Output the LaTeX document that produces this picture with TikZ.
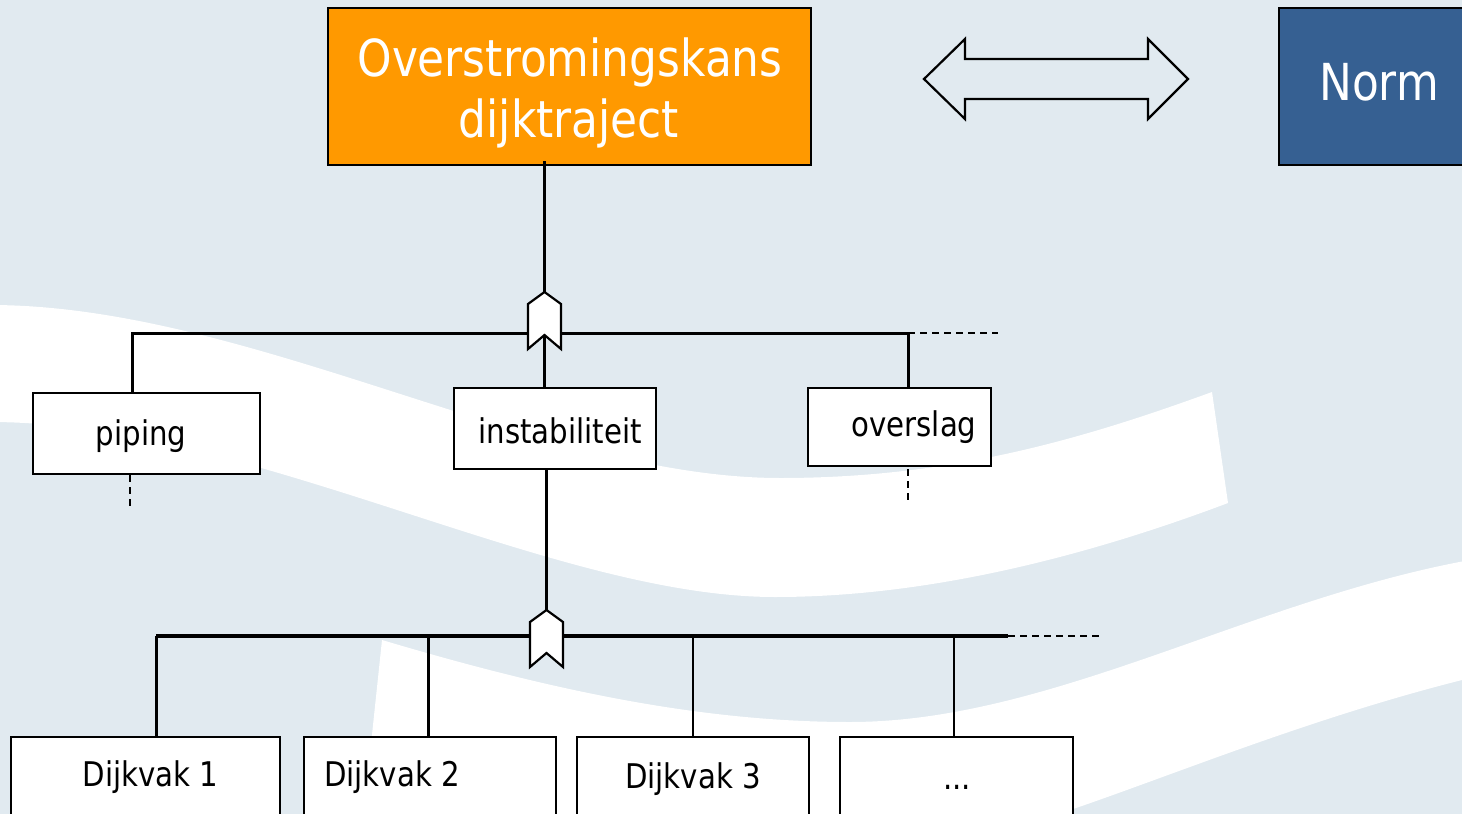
\documentclass[tikz,border=0pt]{standalone}
\usepackage{fontspec}
\setmainfont{DejaVu Sans}[FakeStretch=0.86]
\definecolor{bgblue}{HTML}{E1EAF0}
\definecolor{orangebox}{HTML}{FF9900}
\definecolor{normblue}{HTML}{366092}
\tikzset{
  box/.style={draw=black, line width=2.2pt, fill=white, inner sep=0pt},
  topbox/.style={draw=black, line width=2.4pt, inner sep=0pt},
  conn/.style={line width=3pt},
  thinconn/.style={line width=2.3pt},
  busline/.style={line width=4.5pt},
  dashconn/.style={line width=2.2pt, dash pattern=on 7pt off 5pt},
  txt/.style={anchor=base, inner sep=0pt, font=\fontsize{34}{40}\selectfont},
  bigtxt/.style={anchor=base, inner sep=0pt, text=white, font=\fontsize{51}{61}\selectfont},
  gateshape/.style={draw=black, line width=2.2pt, fill=white, line join=miter},
  gatepic/.pic={
    \draw[gateshape] (0,-28) -- (16.5,-16) -- (16.5,29) -- (0,15) -- (-16.5,29) -- (-16.5,-16) -- cycle;
    \coordinate (-apex) at (0,-28);
    \coordinate (-notch) at (0,15);
  },
}
\begin{document}
\begin{tikzpicture}[x=1pt, y=-1pt]
  \useasboundingbox (0,0) rectangle (1462,814);
  \clip (0,0) rectangle (1462,814);

  % background with two white waves
  \fill[bgblue] (0,0) rectangle (1462,814);
  \fill[white] (-10,305) .. controls (250,305) and (540,478) .. (780,478)
    .. controls (950,478) and (1080,440) .. (1212,392)
    -- (1228,503)
    .. controls (1050,570) and (900,597) .. (775,597)
    .. controls (550,597) and (250,422) .. (-10,422) -- cycle;
  \fill[white] (382,640) .. controls (550,690) and (700,722) .. (850,722)
    .. controls (1050,722) and (1250,600) .. (1470,560)
    -- (1470,678)
    .. controls (1300,720) and (1150,785) .. (1040,820)
    -- (363,820) -- cycle;

  % top level
  \node[topbox, fill=orangebox, minimum width=483pt, minimum height=157pt] (top) at (569.5,86.5) {};
  \node[bigtxt] (toptxt1) at (570,76) {Overstromingskans};
  \node[bigtxt] (toptxt2) at (569,137) {dijktraject};

  \node[topbox, fill=normblue, minimum width=240pt, minimum height=157pt] (norm) at (1399,86.5) {};
  \node[bigtxt] (normtxt) at (1379,100) {Norm};

  % double arrow between the two top boxes
  \draw[line width=2.2pt, line join=miter]
    (924,79) -- (965,39) -- (965,59) -- (1148,59) -- (1148,39) -- (1188,79)
    -- (1148,119) -- (1148,99) -- (965,99) -- (965,119) -- cycle;

  % failure mechanisms
  \node[box, minimum width=227pt, minimum height=81pt] (piping) at (146.5,433.5) {};
  \node[txt] (pipingtxt) at (141,445) {piping};
  \node[box, minimum width=202pt, minimum height=81pt] (instab) at (555,428.5) {};
  \node[txt] (instabtxt) at (560,443) {instabiliteit};
  \node[box, minimum width=183pt, minimum height=78pt] (overslag) at (899.5,427) {};
  \node[txt] (overslagtxt) at (914,436) {overslag};

  % dike sections
  \node[box, minimum width=269pt, minimum height=110pt] (dv1) at (145.5,792) {};
  \node[txt] (dv1txt) at (150.5,786) {Dijkvak 1};
  \node[box, minimum width=252pt, minimum height=110pt] (dv2) at (430,792) {};
  \node[txt] (dv2txt) at (392,786) {Dijkvak 2};
  \node[box, minimum width=232pt, minimum height=110pt] (dv3) at (693,792) {};
  \node[txt] (dv3txt) at (693,788) {Dijkvak 3};
  \node[box, minimum width=233pt, minimum height=110pt] (dv4) at (956.5,792) {};
  \node[txt] (dv4txt) at (957,789) {...};

  % first bus
  \coordinate (b1w) at (132,333);
  \coordinate (b1e) at (908,333);
  \coordinate (b1d) at (998,333);
  \coordinate (g1c) at (544.5,320);
  \draw[conn] ([yshift=5pt]top.south -| g1c) -- (g1c);
  \draw[conn] (piping.north -| b1w) -- (b1w) -- (b1e) -- (overslag.north -| b1e);
  \draw[dashconn] (b1e) -- (b1d);
  \pic (g1) at (g1c) {gatepic};
  \draw[thinconn] (g1-notch) -- (instab.north -| g1-notch);

  % loose ends below piping and overslag
  \coordinate (pipend) at (130,510);
  \coordinate (ovend) at (908,505);
  \draw[dashconn] (piping.south -| pipend) -- (pipend);
  \draw[dashconn] ([yshift=-2pt]overslag.south -| ovend) -- (ovend);

  % second bus
  \coordinate (g2c) at (546.5,638);
  \coordinate (b2w) at (156,636);
  \coordinate (b2e) at (1008,636);
  \coordinate (b2d) at (1103,636);
  \draw[thinconn] (instab.south -| g2c) -- (g2c);
  \draw[busline] (b2w) -- (b2e);
  \draw[dashconn] (b2e) -- (b2d);
  \draw[conn] (b2w) -- (dv1.north -| b2w);
  \draw[conn] (428,636) coordinate (t2) -- (dv2.north -| t2);
  \draw[thinconn] (693,636) coordinate (t3) -- (dv3.north -| t3);
  \draw[thinconn] (954,636) coordinate (t4) -- (dv4.north -| t4);
  \pic (g2) at (g2c) {gatepic};
\end{tikzpicture}
\end{document}
